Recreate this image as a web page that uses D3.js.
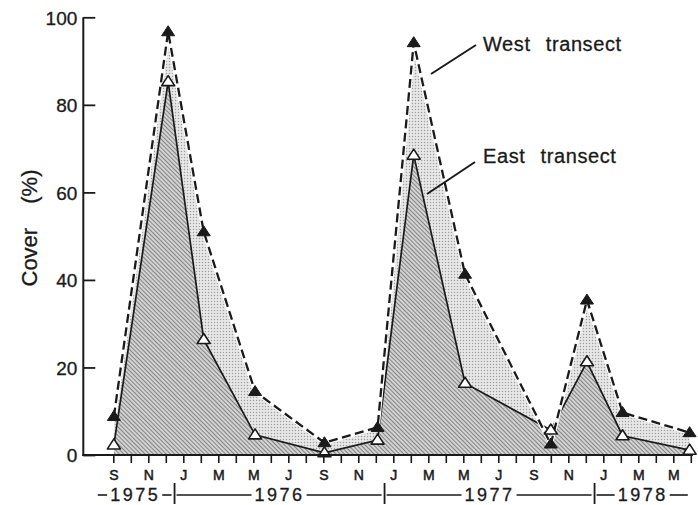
<!DOCTYPE html>
<html>
<head>
<meta charset="utf-8">
<script src="https://cdn.jsdelivr.net/npm/d3@7"></script>
<style>
  body { margin: 0; background: #fff; }
  svg { display: block; font-family: "Liberation Sans", Arial, sans-serif; }
</style>
</head>
<body>
<svg id="chart" width="698" height="505"></svg>
<script>
/*** DATA ***/
var sampleDates = ['1975-09-16', '1975-12-19', '1976-02-20', '1976-05-18', '1976-09-17', '1976-12-18',
                   '1977-02-20', '1977-05-18', '1977-10-15', '1977-12-17', '1978-02-18', '1978-06-13'];
var westCover = [8.8, 96.7, 51, 14.5, 2.8, 6.3, 94.2, 41.3, 2.5, 35.4, 9.7, 5.1];
var eastCover = [2.3, 85.3, 26.4, 4.6, 0.5, 3.4, 68.5, 16.4, 5.7, 21.3, 4.4, 1.1];
var yTicks = [0, 20, 40, 60, 80, 100];
var monthInitials = ['J', 'F', 'M', 'A', 'M', 'J', 'J', 'A', 'S', 'O', 'N', 'D'];
var years = [1975, 1976, 1977, 1978];
var seriesLabels = ['West transect', 'East transect'];

//months counted from Sep 1975 (mid-month = whole number)
var startYear = 1975, startMonth = 8;
function monthIndex(str) {
  var p = str.split('-').map(Number);
  return (p[0] - startYear) * 12 + (p[1] - 1 - startMonth) + (p[2] - 15) / 30;
}

var svg = d3.select('#chart');
var ink = '#1a1a1a';

var x = d3.scaleLinear().domain([0, 33]).range([113.3, 690.8]);
var y = d3.scaleLinear().domain([0, 100]).range([455, 17.3]);

var west = sampleDates.map(function(d, i) { return { m: monthIndex(d), v: westCover[i] }; });
var east = sampleDates.map(function(d, i) { return { m: monthIndex(d), v: eastCover[i] }; });

/*** PATTERNS ***/
var defs = svg.append('defs');
var dots = defs.append('pattern')
  .attr('id', 'stipple')
  .attr('patternUnits', 'userSpaceOnUse')
  .attr('width', 3).attr('height', 3);
dots.append('rect').attr('width', 3).attr('height', 3).attr('fill', '#e8e8e8');
dots.append('circle').attr('cx', 1.5).attr('cy', 1.5).attr('r', 0.75).attr('fill', '#a0a0a0');

var hatch = defs.append('pattern')
  .attr('id', 'hatch')
  .attr('patternUnits', 'userSpaceOnUse')
  .attr('width', 3).attr('height', 3)
  .attr('patternTransform', 'rotate(-45)');
hatch.append('rect').attr('width', 3).attr('height', 3).attr('fill', '#d2d2d2');
hatch.append('rect').attr('width', 1).attr('height', 3).attr('fill', '#858585');

/*** AREAS ***/
var area = d3.area()
  .x(function(d) { return x(d.m); })
  .y0(y(0))
  .y1(function(d) { return y(d.v); });

svg.append('path').datum(west)
  .attr('d', area)
  .attr('fill', 'url(#stipple)');

svg.append('path').datum(east)
  .attr('d', area)
  .attr('fill', 'url(#hatch)');

/*** LINES ***/
var line = d3.line()
  .x(function(d) { return x(d.m); })
  .y(function(d) { return y(d.v); });

svg.append('path').datum(east)
  .attr('d', line)
  .attr('fill', 'none')
  .attr('stroke', ink)
  .attr('stroke-width', 1.7);

//white halo then dashes for west
svg.append('path').datum(west)
  .attr('d', line)
  .attr('fill', 'none')
  .attr('stroke', '#fff')
  .attr('stroke-width', 4.5);

svg.append('path').datum(west)
  .attr('d', line)
  .attr('fill', 'none')
  .attr('stroke', ink)
  .attr('stroke-width', 2.3)
  .attr('stroke-dasharray', '9,4.5');

/*** MARKERS ***/
var tri = 'M0,-6L6.5,4L-6.5,4Z';

svg.append('g').selectAll('path')
  .data(east).enter().append('path')
  .attr('d', tri)
  .attr('transform', function(d) { return 'translate(' + x(d.m) + ',' + y(d.v) + ')'; })
  .attr('fill', '#fff')
  .attr('stroke', ink)
  .attr('stroke-width', 1.6)
  .attr('stroke-linejoin', 'round');

svg.append('g').selectAll('path')
  .data(west).enter().append('path')
  .attr('d', tri)
  .attr('transform', function(d) { return 'translate(' + x(d.m) + ',' + y(d.v) + ')'; })
  .attr('fill', ink)
  .attr('stroke', ink)
  .attr('stroke-width', 1)
  .attr('stroke-linejoin', 'round');

/*** AXES ***/
var axisX0 = 83.3;

var yAxis = d3.axisLeft(y)
  .tickValues(yTicks)
  .tickSizeInner(-12)
  .tickSizeOuter(0)
  .tickPadding(6)
  .tickFormat(d3.format('d'));

var gy = svg.append('g')
  .attr('transform', 'translate(' + axisX0 + ',0)')
  .call(yAxis);
gy.select('.domain').remove();
gy.selectAll('line').attr('stroke', ink).attr('stroke-width', 1.8);
gy.selectAll('text')
  .attr('fill', ink)
  .attr('stroke', ink)
  .attr('stroke-width', 0.3)
  .style('font-size', '19px')
  .attr('dy', '0.36em');

svg.append('line')
  .attr('x1', axisX0).attr('x2', axisX0)
  .attr('y1', y(100)).attr('y2', y(0) + 1)
  .attr('stroke', ink).attr('stroke-width', 2);

var xAxis = d3.axisBottom(x)
  .tickValues(d3.range(0, 34))
  .tickSizeInner(8)
  .tickSizeOuter(0)
  .tickPadding(7)
  .tickFormat(function(m) {
    return (m % 2 == 0) ? monthInitials[(startMonth + m) % 12] : '';
  });

var gx = svg.append('g')
  .attr('transform', 'translate(0,' + y(0) + ')')
  .call(xAxis);
gx.select('.domain').remove();
gx.selectAll('line').attr('stroke', ink).attr('stroke-width', 1.6);
gx.selectAll('text')
  .attr('fill', ink)
  .attr('stroke', ink)
  .attr('stroke-width', 0.5)
  .style('font-size', '14px');

svg.append('line')
  .attr('x1', axisX0 - 1).attr('x2', 693)
  .attr('y1', y(0)).attr('y2', y(0))
  .attr('stroke', ink).attr('stroke-width', 2);

/*** YEAR BAND ***/
var yearY = 495;
var yearGroup = svg.append('g');
years.forEach(function(yr, i) {
  var x0 = (i == 0) ? x(-1) : x((yr - startYear) * 12 - startMonth - 0.5);
  var x1 = (i == years.length - 1) ? x(33) : x((yr + 1 - startYear) * 12 - startMonth - 0.5);
  var t = yearGroup.append('text')
    .attr('x', (x0 + x1) / 2)
    .attr('y', yearY)
    .attr('dy', '0.36em')
    .attr('text-anchor', 'middle')
    .attr('fill', ink)
    .attr('stroke', ink)
    .attr('stroke-width', 0.3)
    .style('font-size', '18px')
    .style('letter-spacing', '2.5px')
    .text(yr);
  var w = t.node().getComputedTextLength();
  var tl = (x0 + x1) / 2 - w / 2 - 3, tr = (x0 + x1) / 2 + w / 2 + 2;
  yearGroup.append('line')
    .attr('x1', x0 + 2).attr('x2', tl)
    .attr('y1', yearY).attr('y2', yearY)
    .attr('stroke', ink).attr('stroke-width', 1.6);
  yearGroup.append('line')
    .attr('x1', tr).attr('x2', x1 - 3)
    .attr('y1', yearY).attr('y2', yearY)
    .attr('stroke', ink).attr('stroke-width', 1.6);
  if (i > 0) {
    yearGroup.append('line')
      .attr('x1', x0).attr('x2', x0)
      .attr('y1', 483).attr('y2', 504)
      .attr('stroke', ink).attr('stroke-width', 1.8);
  }
});

/*** Y LABEL ***/
svg.append('text')
  .attr('transform', 'translate(37,228) rotate(-90)')
  .attr('text-anchor', 'middle')
  .attr('fill', ink)
  .attr('stroke', ink)
  .attr('stroke-width', 0.3)
  .style('font-size', '22px')
  .style('word-spacing', '18px')
  .text('Cover (%)');

/*** ANNOTATIONS ***/
var notes = [
  { label: seriesLabels[0], tx: 483, ty: 51, lx1: 431, ly1: 74, lx2: 476, ly2: 45 },
  { label: seriesLabels[1], tx: 483, ty: 163, lx1: 427, ly1: 194, lx2: 475, ly2: 162 }
];
notes.forEach(function(n) {
  svg.append('line')
    .attr('x1', n.lx1).attr('y1', n.ly1)
    .attr('x2', n.lx2).attr('y2', n.ly2)
    .attr('stroke', ink).attr('stroke-width', 2);
  svg.append('text')
    .attr('x', n.tx).attr('y', n.ty)
    .attr('fill', ink)
    .attr('stroke', ink)
    .attr('stroke-width', 0.3)
    .style('font-size', '20px')
    .style('letter-spacing', '0.6px')
    .style('word-spacing', '9px')
    .text(n.label);
});
</script>
</body>
</html>
